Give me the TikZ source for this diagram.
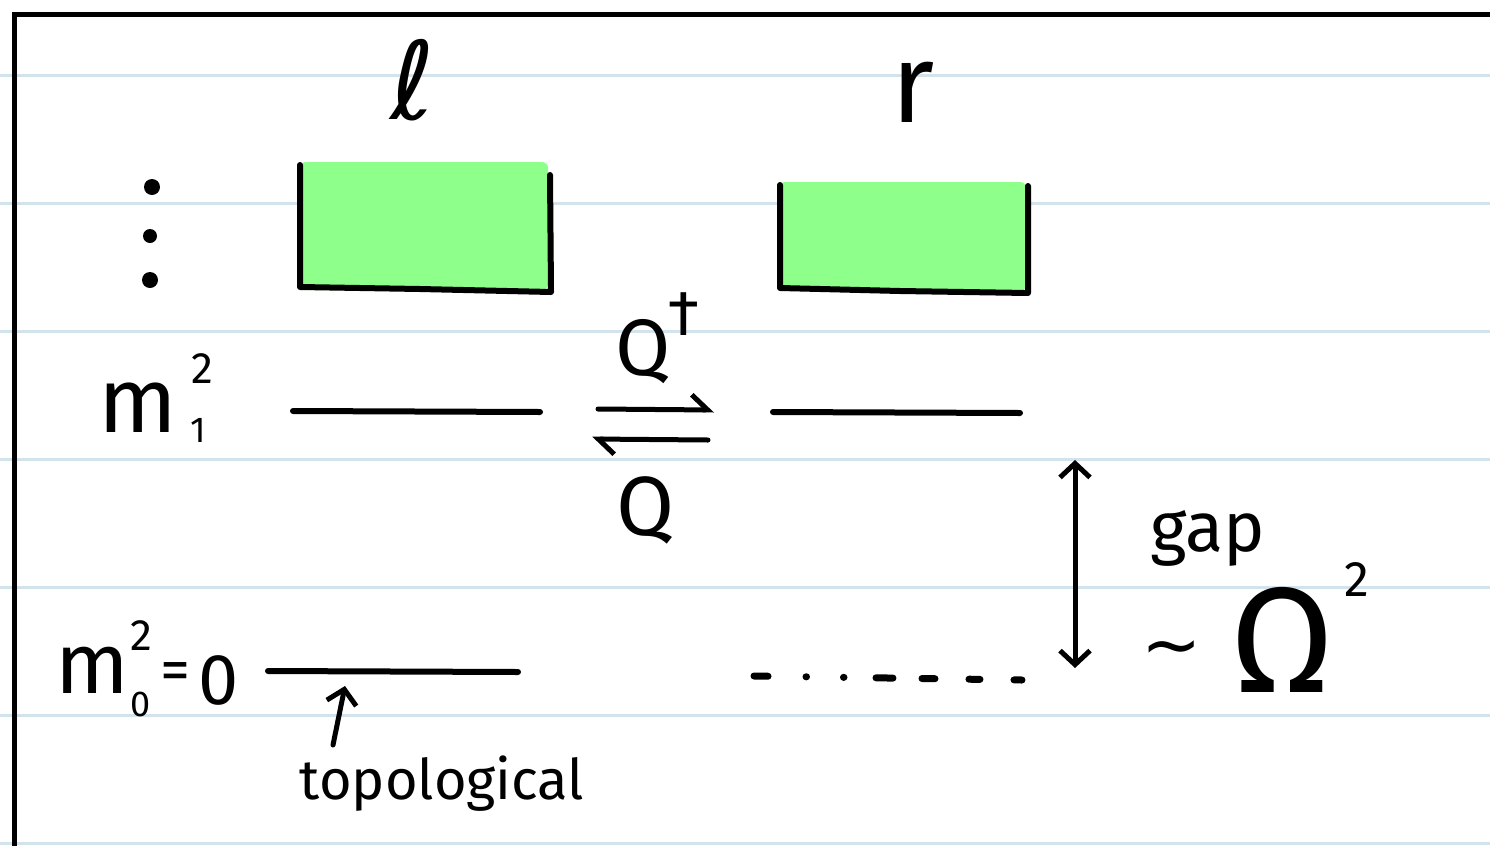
\documentclass[tikz,border=0pt]{standalone}
\usepackage{fontspec}
\setmainfont{Fira Sans}
\newfontfamily\dvfont{DejaVu Sans}
\usetikzlibrary{arrows.meta}
\definecolor{ruled}{HTML}{D3E3EC}
\definecolor{hl}{HTML}{8FFF8C}
\tikzset{
  ink/.style={line width=6pt, line cap=round, line join=round},
  txt/.style={inner sep=0pt, outer sep=0pt, text=black},
  harp/.style={ink, line width=5pt, -{Straight Barb[left, length=16pt, width=30pt, line width=5pt]}},
  vhead/.style={ink, line width=5pt, -{Straight Barb[length=14pt, width=30pt, line width=5pt]}},
  dvhead/.style={ink, line width=5pt, {Straight Barb[length=14pt, width=30pt, line width=5pt]}-{Straight Barb[length=14pt, width=30pt, line width=5pt]}},
}
\newcommand{\fs}[1]{\fontsize{#1}{#1}\selectfont}
\begin{document}
\begin{tikzpicture}[x=1pt, y=-1pt]
\useasboundingbox (0,0) rectangle (1490,846);
\fill[white] (0,0) rectangle (1490,846);
% ruled lines
\foreach \yy in {75,203,331,459,587,715,843}
  \draw[ruled, line width=3pt] (0,\yy) -- (1490,\yy);
% page border
\draw[line width=5pt] (14,846) -- (14,14) -- (1490,14);

% column headers
\node[txt] (ell) at (413,80) {\dvfont\fs{108}ℓ};
\node[txt] (rr) at (913,92) {\fs{112}r};

% green boxes
\fill[hl, rounded corners=6pt] (300,162) rectangle (548,290);
\draw[ink] (300,165) -- (300,287) -- (420,289) -- (551,292) -- (550,175);
\fill[hl, rounded corners=6pt] (779,182) rectangle (1026,291);
\draw[ink] (780,185) -- (780,288) -- (900,291) -- (1028,293) -- (1028,186);

% vertical dots
\fill (152,187) circle (8pt);
\fill (150,236) circle (7pt);
\fill (150,280) circle (8pt);

% level m1
\node[txt] (m1) at (138,408) {\fs{92}m};
\node[txt] (m1sup) at (202,369) {\fs{44}2};
\node[txt] (m1sub) at (198,430) {\fs{36}1};
\draw[ink] (293,411) -- (540,412);
\draw[ink] (773,412) -- (1020,413);

% Q maps
\node[txt] (qd) at (643,352) {\fs{80}Q};
\node[txt] (dag) at (684,314) {\fs{64}†};
\node[txt] (q) at (646,510) {\fs{84}Q};
\coordinate (ha1) at (598,409);
\coordinate (ha2) at (714,410);
\coordinate (hb1) at (708,440);
\coordinate (hb2) at (592,439);
\draw[harp] (ha1) -- (ha2);
\draw[harp] (hb1) -- (hb2);

% level m0
\node[txt] (m0) at (92,670) {\fs{86}m};
\node[txt] (m0sup) at (141,636) {\fs{44}2};
\node[txt] (m0sub) at (141,704) {\fs{36}0};
\node[txt] (eq) at (175,677) {\fs{60}=};
\node[txt] (zero) at (219,680) {\fs{72}0};
\draw[ink] (268,671) -- (518,672);
\draw[ink, line width=7pt, dash pattern=on 14pt off 38pt on 0.5pt off 37pt on 0.5pt off 32pt on 17pt off 29pt on 13pt off 34pt on 11pt off 34pt on 8pt]
  (754,676) -- (1022,680);

% topological pointer
\node[txt] (topo) at (442,784) {\fs{56}topological};
\coordinate (tpa) at (333,745);
\coordinate (tpb) at (345,686);
\draw[vhead] (tpa) -- (tpb);

% gap arrow
\coordinate (gt) at (1075,460);
\coordinate (gb) at (1075,668);
\draw[dvhead] (gt) -- (gb);
\node[txt] (gap) at (1208,538) {\fs{70}gap};
\node[txt] (tilde) at (1172,655) {\dvfont\fs{72}∼};
\node[txt] (om) at (1282,640) {\fs{150}Ω};
\node[txt] (omsup) at (1357,580) {\fs{50}2};
\end{tikzpicture}
\end{document}
